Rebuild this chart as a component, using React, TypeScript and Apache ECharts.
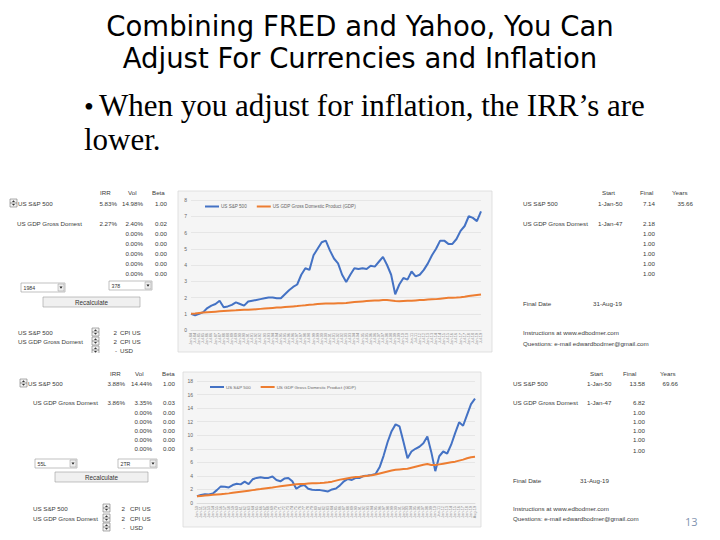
import React, { useEffect, useRef } from "react";
import * as echarts from "echarts";

const SP_NAME = "US S&P 500";
const GDP_NAME = "US GDP Gross Domestic Product (GDP)";

// Chart 1: inflation adjusted, Jan-84 .. Jul-19 (half-yearly)
const dates1 = "Jan-84 Jul-84 Jan-85 Jul-85 Jan-86 Jul-86 Jan-87 Jul-87 Jan-88 Jul-88 Jan-89 Jul-89 Jan-90 Jul-90 Jan-91 Jul-91 Jan-92 Jul-92 Jan-93 Jul-93 Jan-94 Jul-94 Jan-95 Jul-95 Jan-96 Jul-96 Jan-97 Jul-97 Jan-98 Jul-98 Jan-99 Jul-99 Jan-00 Jul-00 Jan-01 Jul-01 Jan-02 Jul-02 Jan-03 Jul-03 Jan-04 Jul-04 Jan-05 Jul-05 Jan-06 Jul-06 Jan-07 Jul-07 Jan-08 Jul-08 Jan-09 Jul-09 Jan-10 Jul-10 Jan-11 Jul-11 Jan-12 Jul-12 Jan-13 Jul-13 Jan-14 Jul-14 Jan-15 Jul-15 Jan-16 Jul-16 Jan-17 Jul-17 Jan-18 Jul-18 Jan-19 Jul-19".split(" ");
const sp1 = [1.0, 0.9, 1.0, 1.1, 1.35, 1.5, 1.6, 1.8, 1.4, 1.45, 1.55, 1.7, 1.6, 1.5, 1.75, 1.8, 1.85, 1.9, 1.95, 2.0, 2.0, 1.95, 1.95, 2.2, 2.45, 2.65, 2.8, 3.4, 3.8, 3.7, 4.6, 5.0, 5.4, 5.5, 4.9, 4.4, 4.1, 3.4, 2.95, 3.4, 3.8, 3.75, 3.8, 3.75, 3.95, 3.9, 4.2, 4.5, 4.0, 3.4, 2.2, 2.8, 3.2, 3.1, 3.6, 3.3, 3.4, 3.7, 4.1, 4.6, 5.0, 5.5, 5.5, 5.3, 5.3, 5.6, 6.1, 6.4, 7.0, 6.9, 6.7, 7.3];
const gdp1 = [1.0, 1.02, 1.05, 1.07, 1.09, 1.11, 1.13, 1.15, 1.17, 1.19, 1.2, 1.21, 1.23, 1.24, 1.24, 1.26, 1.28, 1.3, 1.32, 1.34, 1.36, 1.38, 1.39, 1.41, 1.43, 1.45, 1.47, 1.5, 1.52, 1.55, 1.57, 1.6, 1.62, 1.63, 1.63, 1.63, 1.64, 1.65, 1.66, 1.69, 1.72, 1.74, 1.76, 1.78, 1.8, 1.81, 1.82, 1.84, 1.84, 1.82, 1.78, 1.77, 1.79, 1.8, 1.8, 1.82, 1.84, 1.85, 1.87, 1.89, 1.9, 1.93, 1.96, 1.98, 1.99, 2.0, 2.02, 2.05, 2.09, 2.13, 2.16, 2.19];
const ticks1 = [0, 8, 1];

// Chart 2: Jan-50 .. Aug-19 (yearly)
const dates2 = "Jan-50 Jan-51 Jan-52 Jan-53 Jan-54 Jan-55 Jan-56 Jan-57 Jan-58 Jan-59 Jan-60 Jan-61 Jan-62 Jan-63 Jan-64 Jan-65 Jan-66 Jan-67 Jan-68 Jan-69 Jan-70 Jan-71 Jan-72 Jan-73 Jan-74 Jan-75 Jan-76 Jan-77 Jan-78 Jan-79 Jan-80 Jan-81 Jan-82 Jan-83 Jan-84 Jan-85 Jan-86 Jan-87 Jan-88 Jan-89 Jan-90 Jan-91 Jan-92 Jan-93 Jan-94 Jan-95 Jan-96 Jan-97 Jan-98 Jan-99 Jan-00 Jan-01 Jan-02 Jan-03 Jan-04 Jan-05 Jan-06 Jan-07 Jan-08 Jan-09 Jan-10 Jan-11 Jan-12 Jan-13 Jan-14 Jan-15 Jan-16 Jan-17 Jan-18 Jan-19 Aug-19".split(" ");
const sp2 = [1.0, 1.2, 1.3, 1.25, 1.4, 1.9, 2.45, 2.4, 2.3, 2.65, 2.85, 2.75, 3.15, 2.8, 3.5, 3.7, 3.8, 3.7, 3.7, 3.9, 3.4, 3.2, 3.6, 3.7, 3.2, 2.1, 2.5, 2.65, 2.1, 1.95, 1.9, 1.9, 1.8, 1.7, 2.0, 2.15, 2.6, 3.2, 3.55, 3.4, 3.7, 3.7, 4.0, 4.05, 4.15, 4.3, 5.3, 7.0, 9.0, 10.6, 11.6, 11.3, 9.0, 6.6, 7.6, 8.0, 8.3, 8.8, 9.8, 7.5, 4.7, 6.9, 7.6, 7.3, 8.6, 10.3, 11.9, 11.4, 13.0, 14.6, 15.4];
const gdp2 = [1.0, 1.05, 1.1, 1.15, 1.2, 1.25, 1.3, 1.35, 1.42, 1.5, 1.58, 1.66, 1.74, 1.82, 1.9, 1.98, 2.06, 2.15, 2.23, 2.3, 2.38, 2.46, 2.54, 2.62, 2.7, 2.75, 2.79, 2.82, 2.86, 2.9, 2.93, 2.96, 3.0, 3.05, 3.15, 3.3, 3.45, 3.55, 3.65, 3.75, 3.82, 3.88, 3.95, 4.02, 4.1, 4.2, 4.35, 4.5, 4.65, 4.8, 4.9, 4.95, 5.0, 5.05, 5.2, 5.35, 5.5, 5.65, 5.75, 5.6, 5.6, 5.7, 5.8, 5.9, 6.0, 6.1, 6.25, 6.4, 6.6, 6.75, 6.82];
const ticks2 = [0, 18, 2];

const BLUE = "#4472c4";
const ORANGE = "#ed7d31";
const SHEET_FONT = "Liberation Sans";

type TO = { size?: number; fill?: string; align?: string; font?: string };
const txt = (x: number, y: number, s: string, o: TO = {}) => ({
  type: "text",
  x,
  y,
  silent: true,
  z: 5,
  style: {
    text: s,
    fontSize: o.size ?? 6.2,
    fontFamily: o.font ?? SHEET_FONT,
    fill: o.fill ?? "#3a3a3a",
    align: o.align ?? "left",
    verticalAlign: "middle",
  },
});

const spin = (x: number, y: number) => ({
  type: "group",
  x,
  y,
  z: 5,
  children: [
    { type: "rect", shape: { x: 0, y: 0, width: 7, height: 8 }, style: { fill: "#f2f2f2", stroke: "#777", lineWidth: 0.6 } },
    { type: "line", shape: { x1: 0, y1: 4, x2: 7, y2: 4 }, style: { stroke: "#555", lineWidth: 0.6 } },
    { type: "polygon", shape: { points: [[2, 3], [3.5, 1.3], [5, 3]] }, style: { fill: "#333" } },
    { type: "polygon", shape: { points: [[2, 5], [3.5, 6.7], [5, 5]] }, style: { fill: "#333" } },
  ],
});

const dropdown = (x: number, y: number, w: number, label: string) => ({
  type: "group",
  x,
  y,
  z: 5,
  children: [
    { type: "rect", shape: { x: 0, y: 0, width: w, height: 9 }, style: { fill: "#fff", stroke: "#999", lineWidth: 0.6 } },
    { type: "rect", shape: { x: w - 7, y: 1, width: 6, height: 7 }, style: { fill: "#eee", stroke: "#999", lineWidth: 0.5 } },
    { type: "polygon", shape: { points: [[w - 5.5, 3.5], [w - 2.5, 3.5], [w - 4, 5.8]] }, style: { fill: "#222" } },
    { type: "text", x: 2.5, y: 4.5, style: { text: label, fontSize: 5.2, fontFamily: SHEET_FONT, fill: "#333", align: "left", verticalAlign: "middle" } },
  ],
});

const button = (x: number, y: number, w: number, h: number) => ({
  type: "group",
  x,
  y,
  z: 5,
  children: [
    { type: "rect", shape: { x: 0, y: 0, width: w, height: h }, style: { fill: "#f0f0f0", stroke: "#9a9a9a", lineWidth: 0.6 } },
    { type: "text", x: w / 2, y: h / 2, style: { text: "Recalculate", fontSize: 6.3, fontFamily: SHEET_FONT, fill: "#333", align: "center", verticalAlign: "middle" } },
  ],
});

const panel = (x: number, y: number, w: number, h: number) => ({
  type: "rect",
  z: -10,
  silent: true,
  shape: { x, y, width: w, height: h },
  style: { fill: "#f5f5f5", stroke: "#d9d9d9", lineWidth: 0.8 },
});

const graphics: any[] = [
  panel(178, 191, 314, 161),
  panel(183, 372, 298, 155),
  // Title
  txt(360, 25.5, "Combining FRED and Yahoo, You Can", { size: 27.5, fill: "#000", align: "center", font: "DejaVu Sans" }),
  txt(360, 58, "Adjust For Currencies and Inflation", { size: 27.5, fill: "#000", align: "center", font: "DejaVu Sans" }),
  txt(84, 106, "•", { size: 28, fill: "#000", font: "Liberation Serif" }),
  txt(99, 105, "When you adjust for inflation, the IRR’s are", { size: 31, fill: "#000", font: "Liberation Serif" }),
  txt(84, 139, "lower.", { size: 31, fill: "#000", font: "Liberation Serif" }),

  // Upper sheet, left block
  txt(100, 192, "IRR"), txt(128, 192, "Vol"), txt(152, 192, "Beta"),
  spin(10, 199),
  txt(18, 203, "US S&P 500"), txt(117, 203, "5.83%", { align: "right" }), txt(143, 203, "14.98%", { align: "right" }), txt(167, 203, "1.00", { align: "right" }),
  txt(17, 223, "US GDP Gross Domest"), txt(117, 223, "2.27%", { align: "right" }), txt(143, 223, "2.40%", { align: "right" }), txt(167, 223, "0.02", { align: "right" }),
  ...[233, 243, 253, 263, 273].flatMap((y) => [txt(143, y, "0.00%", { align: "right" }), txt(167, y, "0.00", { align: "right" })]),
  dropdown(21, 283, 44, "1984"),
  dropdown(109, 281, 43, "378"),
  button(43, 297, 97, 10),
  txt(18, 332, "US S&P 500"), spin(92, 328), txt(117, 332, "2", { align: "right" }), txt(120, 332, "CPI US"),
  txt(18, 341, "US GDP Gross Domest"), spin(92, 337), txt(117, 341, "2", { align: "right" }), txt(120, 341, "CPI US"),
  spin(92, 346), txt(117, 350, "-", { align: "right" }), txt(120, 350, "USD"),

  // Upper sheet, right block
  txt(602, 192, "Start"), txt(640, 192, "Final"), txt(672, 192, "Years"),
  txt(523, 203, "US S&P 500"), txt(598, 203, "1-Jan-50"), txt(655, 203, "7.14", { align: "right" }), txt(693, 203, "35.66", { align: "right" }),
  txt(523, 223, "US GDP Gross Domest"), txt(598, 223, "1-Jan-47"), txt(655, 223, "2.18", { align: "right" }),
  ...[233, 243, 253, 263, 273].map((y) => txt(655, y, "1.00", { align: "right" })),
  txt(523, 303, "Final Date"), txt(593, 303, "31-Aug-19"),
  txt(523, 332, "Instructions at www.edbodmer.com"),
  txt(523, 343, "Questions: e-mail edwardbodmer@gmail.com"),

  // crop band between the two screenshots
  { type: "rect", z: 8, silent: true, shape: { x: 0, y: 353, width: 720, height: 11 }, style: { fill: "#fff" } },

  // Lower sheet, left block
  txt(110, 373, "IRR"), txt(135, 373, "Vol"), txt(162, 373, "Beta"),
  spin(20, 379),
  txt(28, 383, "US S&P 500"), txt(125, 383, "3.88%", { align: "right" }), txt(152, 383, "14.44%", { align: "right" }), txt(175, 383, "1.00", { align: "right" }),
  txt(33, 402, "US GDP Gross Domest"), txt(125, 402, "3.86%", { align: "right" }), txt(152, 402, "3.35%", { align: "right" }), txt(175, 402, "0.03", { align: "right" }),
  ...[412, 421, 430, 439, 448].flatMap((y) => [txt(152, y, "0.00%", { align: "right" }), txt(175, y, "0.00", { align: "right" })]),
  dropdown(35, 459, 42, "55L"),
  dropdown(118, 459, 39, "2TR"),
  button(55, 472, 93, 10),
  txt(33, 508, "US S&P 500"), spin(103, 504), txt(125, 508, "2", { align: "right" }), txt(130, 508, "CPI US"),
  txt(33, 518, "US GDP Gross Domest"), spin(103, 514), txt(125, 518, "2", { align: "right" }), txt(130, 518, "CPI US"),
  spin(103, 523), txt(125, 527, "-", { align: "right" }), txt(130, 527, "USD"),

  // Lower sheet, right block
  txt(590, 373, "Start"), txt(623, 373, "Final"), txt(660, 373, "Years"),
  txt(513, 383, "US S&P 500"), txt(587, 383, "1-Jan-50"), txt(645, 383, "13.58", { align: "right" }), txt(678, 383, "69.66", { align: "right" }),
  txt(513, 402, "US GDP Gross Domest"), txt(587, 402, "1-Jan-47"), txt(645, 402, "6.82", { align: "right" }),
  ...[412, 421, 430, 439, 450].map((y) => txt(645, y, "1.00", { align: "right" })),
  txt(513, 480, "Final Date"), txt(580, 480, "31-Aug-19"),
  txt(513, 508, "Instructions at www.edbodmer.com"),
  txt(513, 518, "Questions: e-mail edwardbodmer@gmail.com"),
  txt(685, 521, "13", { size: 11, fill: "#7f93b0", font: "Open Sans" }),
];

const xAxisCfg = (grid: number, data: string[]) => ({
  type: "category",
  gridIndex: grid,
  data,
  boundaryGap: false,
  axisLine: { show: true, lineStyle: { color: "#d9d9d9", width: 0.8 } },
  axisTick: { show: false },
  axisLabel: { rotate: 90, interval: 0, fontSize: 3.8, color: "#888", margin: 3, fontFamily: SHEET_FONT },
  splitLine: { show: false },
});

const yAxisCfg = (grid: number, t: number[]) => ({
  type: "value",
  gridIndex: grid,
  min: t[0],
  max: t[1],
  interval: t[2],
  axisLine: { show: false },
  axisTick: { show: false },
  axisLabel: { fontSize: 5, color: "#666", margin: 4, fontFamily: SHEET_FONT },
  splitLine: { lineStyle: { color: "#dcdcdc", width: 0.6 } },
});

const lineSeries = (name: string, data: number[], color: string, idx: number, width: number) => ({
  type: "line",
  name,
  data,
  xAxisIndex: idx,
  yAxisIndex: idx,
  showSymbol: false,
  symbol: "none",
  lineStyle: { color, width },
  itemStyle: { color },
  z: 3,
});

const legendCfg = (left: number, top: number, size: number, gap: number) => ({
  data: [SP_NAME, GDP_NAME],
  left,
  top,
  orient: "horizontal",
  icon: "rect",
  itemWidth: 14,
  itemHeight: 2,
  itemGap: gap,
  padding: 0,
  selectedMode: false,
  textStyle: { fontSize: size, color: "#666", fontFamily: SHEET_FONT, padding: [0, 0, 0, -3] },
});

export default function App() {
  const ref = useRef<HTMLDivElement>(null);
  useEffect(() => {
    if (!ref.current) return;
    const chart = echarts.init(ref.current, undefined, { renderer: "svg" });
    chart.setOption({
      animation: false,
      backgroundColor: "#ffffff",
      grid: [
        { left: 191, top: 200, width: 290, height: 130 },
        { left: 197, top: 381, width: 278, height: 122 },
      ],
      xAxis: [xAxisCfg(0, dates1), xAxisCfg(1, dates2)],
      yAxis: [yAxisCfg(0, ticks1), yAxisCfg(1, ticks2)],
      legend: [legendCfg(205, 204, 4.6, 10), legendCfg(210, 385, 4.4, 10)],
      series: [
        lineSeries(SP_NAME, sp1, BLUE, 0, 2),
        lineSeries(GDP_NAME, gdp1, ORANGE, 0, 2),
        lineSeries(SP_NAME, sp2, BLUE, 1, 2),
        lineSeries(GDP_NAME, gdp2, ORANGE, 1, 2),
      ],
      graphic: graphics,
    });
    return () => chart.dispose();
  }, []);
  return <div ref={ref} style={{ position: "absolute", left: 0, top: 0, width: 720, height: 540 }} />;
}
